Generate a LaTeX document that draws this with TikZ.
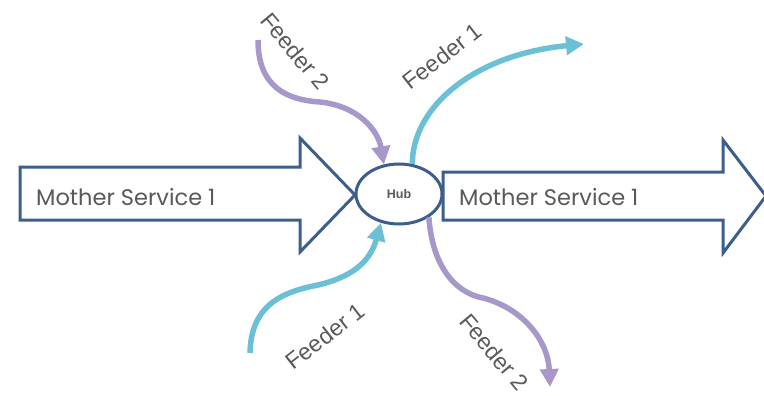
\documentclass[tikz,border=0pt]{standalone}
\usepackage{fontspec}
\setmainfont{Liberation Sans}
\newfontfamily\geofont{Poppins}
\usetikzlibrary{arrows.meta,shapes.geometric}
\definecolor{svcblue}{HTML}{3B5E8C}
\definecolor{feedpurple}{HTML}{A898CA}
\definecolor{feedcyan}{HTML}{6CC0D5}
\definecolor{labelgray}{HTML}{595959}
\tikzset{
  mother/.style={draw=svcblue, line width=3pt, line join=miter, fill=white},
  mothertext/.style={font=\geofont\fontsize{22.5}{26}\selectfont, text=labelgray, anchor=west, inner sep=0pt},
  hubnode/.style={ellipse, draw=svcblue, line width=3pt, fill=white, minimum width=86pt, minimum height=60pt, inner sep=0pt,
    font=\bfseries\fontsize{12.5}{14}\selectfont, text=labelgray},
  feeder/.style={line width=5.5pt, -{Triangle[length=18pt,width=18pt]}},
  f2/.style={feeder, draw=feedpurple},
  f1/.style={feeder, draw=feedcyan},
  feedlabel/.style={font=\fontsize{23}{26}\selectfont, text=labelgray, inner sep=0pt}
}
\begin{document}
\begin{tikzpicture}[x=1pt,y=-1pt]
\useasboundingbox (0,0) rectangle (764,396);
% incoming mother service
\draw[mother] (20,167) -- (300,167) -- (300,138) -- (355,195) -- (300,252) -- (300,220) -- (20,220) -- cycle;
% outgoing mother service
\draw[mother] (443,172) -- (723,172) -- (723,140) -- (766,196) -- (723,253) -- (723,220) -- (443,220) -- cycle;
\node[mothertext] (msin) at (36,197) {Mother Service 1};
\node[mothertext] (msout) at (459,197) {Mother Service 1};
% hub
\node[hubnode] (hub) at (399,194) {Hub};
% free ends of the feeder arrows
\coordinate (f2in) at (258,40);
\coordinate (f1out) at (584,44);
\coordinate (f1in) at (250,353);
\coordinate (f2out) at (550,387);
% feeders
\draw[f2] (f2in) .. controls (258,88) and (288,100) .. (320,102)
  .. controls (358,106) and (378,130) .. (hub.117);
\draw[f1] (hub.66) .. controls (412,110) and (470,55) .. (f1out);
\draw[f1] (f1in) .. controls (251,305) and (282,292) .. (318,285)
  .. controls (352,277) and (370,262) .. (hub.238);
\draw[f2] (hub.322) .. controls (432,262) and (452,292) .. (483,298)
  .. controls (522,308) and (548,340) .. (f2out);
% feeder labels
\node[feedlabel, rotate=-50] (l2a) at (295,51) {Feeder 2};
\node[feedlabel, rotate=38] (l1a) at (442,56) {Feeder 1};
\node[feedlabel, rotate=38] (l1b) at (325,336) {Feeder 1};
\node[feedlabel, rotate=-50] (l2b) at (494,352) {Feeder 2};
\end{tikzpicture}
\end{document}
